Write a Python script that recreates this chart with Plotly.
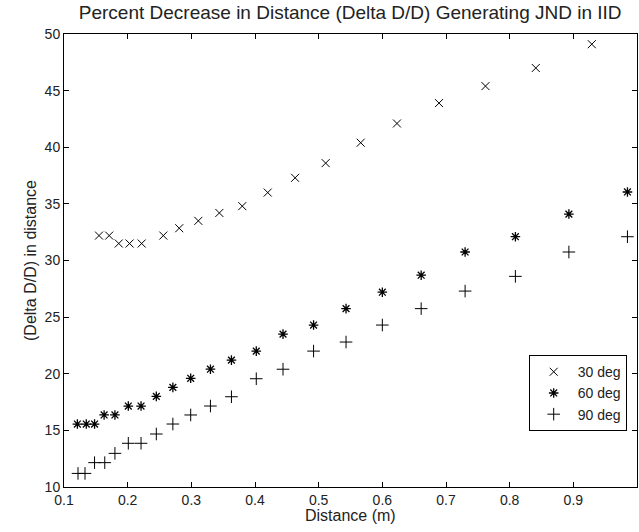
import plotly.graph_objects as go

# 30 deg
x30 = [0.155, 0.171, 0.186, 0.203, 0.222, 0.256, 0.281, 0.311, 0.344, 0.380,
       0.420, 0.463, 0.511, 0.566, 0.623, 0.689, 0.762, 0.841, 0.929]
y30 = [32.2, 32.2, 31.5, 31.5, 31.5, 32.2, 32.85, 33.5, 34.2, 34.8,
       36.0, 37.3, 38.6, 40.4, 42.1, 43.9, 45.4, 47.0, 49.1]

# 60 deg
x60 = [0.121, 0.135, 0.148, 0.163, 0.180, 0.201, 0.221, 0.245, 0.271, 0.299,
       0.330, 0.363, 0.402, 0.444, 0.492, 0.543, 0.600, 0.661, 0.730, 0.809,
       0.893, 0.985]
y60 = [15.56, 15.56, 15.56, 16.36, 16.36, 17.15, 17.15, 18.0, 18.8, 19.6,
       20.4, 21.2, 22.0, 23.5, 24.3, 25.75, 27.2, 28.7, 30.75, 32.1,
       34.1, 36.05]

# 90 deg
x90 = [0.122, 0.133, 0.148, 0.164, 0.180, 0.201, 0.221, 0.245, 0.271, 0.299,
       0.330, 0.363, 0.402, 0.444, 0.492, 0.543, 0.600, 0.661, 0.730, 0.809,
       0.893, 0.985]
y90 = [11.2, 11.2, 12.15, 12.15, 12.97, 13.86, 13.86, 14.68, 15.56, 16.36,
       17.15, 17.97, 19.56, 20.4, 22.0, 22.8, 24.3, 25.75, 27.3, 28.6,
       30.75, 32.1]

names = ["30 deg", "60 deg", "90 deg"]
xtick_vals = [0.1, 0.2, 0.3, 0.4, 0.5, 0.6, 0.7, 0.8, 0.9, 1.0]
xtick_text = ["0.1", "0.2", "0.3", "0.4", "0.5", "0.6", "0.7", "0.8", "0.9", "1"]
ytick_vals = [10, 15, 20, 25, 30, 35, 40, 45, 50]

FONT = "Liberation Sans, Arial, sans-serif"

fig = go.Figure()
fig.add_trace(go.Scatter(x=x30, y=y30, mode="markers", name=names[0],
                         marker=dict(symbol="x-thin-open", size=8, color="black",
                                     line=dict(width=1, color="#222"))))
fig.add_trace(go.Scatter(x=x60, y=y60, mode="markers", name=names[1],
                         marker=dict(symbol="asterisk-open", size=8, color="black",
                                     line=dict(width=1.3, color="black"))))
fig.add_trace(go.Scatter(x=x90, y=y90, mode="markers", name=names[2],
                         marker=dict(symbol="cross-thin-open", size=9, color="black",
                                     line=dict(width=1, color="black"))))

axis_common = dict(showgrid=False, zeroline=False, showline=True, linecolor="black",
                   linewidth=1, mirror="ticks", ticks="inside", ticklen=5,
                   tickcolor="black", tickfont=dict(family=FONT, size=14, color="#222"))

fig.update_layout(
    width=639, height=532,
    margin=dict(l=64, r=2, t=34, b=45),
    plot_bgcolor="white", paper_bgcolor="white",
    font=dict(family=FONT, color="black"),
    title=dict(text="Percent Decrease in Distance (Delta D/D) Generating JND in IID",
               x=0.548, xanchor="center", y=0.976, yanchor="middle",
               font=dict(family=FONT, size=19, color="#222")),
    xaxis=dict(range=[0.1, 1.0], tickvals=xtick_vals, ticktext=xtick_text,
               **axis_common),
    yaxis=dict(range=[10, 50], tickvals=ytick_vals,
               title=dict(text="(Delta D/D) in distance",
                          font=dict(family=FONT, size=16, color="#222"), standoff=4),
               **axis_common),
    legend=dict(x=0.811, y=0.291, xanchor="left", yanchor="top",
                bordercolor="black", borderwidth=1, bgcolor="white",
                font=dict(family=FONT, size=14, color="#222"),
                itemwidth=38, tracegroupgap=0),
    showlegend=True,
    annotations=[dict(text="Distance (m)", xref="paper", yref="paper",
                      x=0.5, y=-0.062, xanchor="center", yanchor="middle",
                      showarrow=False, font=dict(family=FONT, size=16, color="#222"))],
)

fig.write_html("out.html")
